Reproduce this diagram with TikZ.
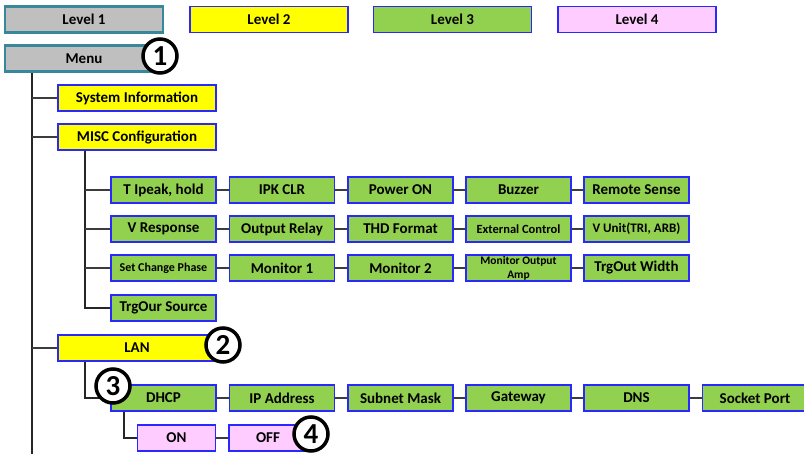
\documentclass[tikz,border=0pt]{standalone}
\usepackage{fontspec}
\setmainfont{Carlito}
\usepackage{tikz}
\usetikzlibrary{positioning}
\definecolor{LvlGray}{RGB}{191,191,191}
\definecolor{LvlTeal}{RGB}{56,135,155}
\definecolor{LvlBlue}{RGB}{40,40,255}
\definecolor{LvlYellow}{RGB}{255,255,0}
\definecolor{LvlGreen}{RGB}{146,208,80}
\definecolor{LvlPink}{RGB}{255,204,255}
\definecolor{LinkGray}{RGB}{60,60,60}

\tikzset{
  box/.style={draw=LvlBlue, line width=1.5pt, minimum height=26, inner sep=1pt,
              align=center, font=\bfseries\fontsize{15}{16}\selectfont},
  lvlone/.style={box, fill=LvlGray, draw=LvlTeal, line width=2.2pt, minimum width=158},
  lvltwo/.style={box, fill=LvlYellow, minimum width=158},
  lvlthree/.style={box, fill=LvlGreen, minimum width=105},
  lvlfour/.style={box, fill=LvlPink, minimum width=78},
  smalltext/.style={font=\bfseries\fontsize{12.5}{14}\selectfont},
  marker/.style={circle, draw, line width=3.5pt, fill=white, minimum size=34,
                 inner sep=0pt, font=\bfseries\fontsize{29}{29}\selectfont},
  trunk/.style={draw=black!85, line width=1.6pt},
  link/.style={draw=LinkGray, line width=1.4pt},
}

\begin{document}
\begin{tikzpicture}[x=1pt, y=-1pt]
  \useasboundingbox (0,0) rectangle (804,454);

  % Legend
  \node[lvlone] (legone) at (84,19.5) {Level 1};
  \node[lvltwo] (legtwo) at (269,19.5) {Level 2};
  \node[lvlthree, minimum width=158] (legthree) at (452.5,19.5) {Level 3};
  \node[lvlfour, minimum width=158] (legfour) at (637,19.5) {Level 4};

  % Level 1 and 2
  \node[lvlone] (menu) at (84,58.5) {Menu};
  \node[lvltwo] (sysinfo) at (137,98) {System Information};
  \node[lvltwo] (misc) at (137,137) {MISC Configuration};
  \node[lvltwo] (lan) at (137,348) {LAN};

  % MISC settings
  \node[lvlthree] (m11) at (163.5,190) {T Ipeak, hold};
  \node[lvlthree] (m12) at (282,190) {IPK CLR};
  \node[lvlthree] (m13) at (400.5,190) {Power ON};
  \node[lvlthree] (m14) at (518.5,190) {Buzzer};
  \node[lvlthree] (m15) at (636.5,190) {Remote Sense};

  \node[lvlthree] (m21) at (163.5,229) {V Response};
  \node[lvlthree] (m22) at (282,229) {Output Relay};
  \node[lvlthree] (m23) at (400.5,229) {THD Format};
  \node[lvlthree, smalltext] (m24) at (518.5,229) {External Control};
  \node[lvlthree, font=\bfseries\fontsize{13}{14}\selectfont] (m25) at (636.5,229) {V Unit(TRI, ARB)};

  \node[lvlthree, font=\bfseries\fontsize{12}{14}\selectfont] (m31) at (163.5,268) {Set Change Phase};
  \node[lvlthree] (m32) at (282,268) {Monitor 1};
  \node[lvlthree] (m33) at (400.5,268) {Monitor 2};
  \node[lvlthree, font=\bfseries\fontsize{11.5}{12}\selectfont] (m34) at (518.5,268) {Monitor Output\\[2pt]Amp};
  \node[lvlthree] (m35) at (636.5,268) {TrgOut Width};

  \node[lvlthree] (m41) at (163.5,308) {TrgOur Source};

  % LAN settings
  \node[lvlthree] (n1) at (163.5,398) {DHCP};
  \node[lvlthree] (n2) at (282,398) {IP Address};
  \node[lvlthree] (n3) at (400.5,398) {Subnet Mask};
  \node[lvlthree] (n4) at (518.5,398) {Gateway};
  \node[lvlthree] (n5) at (636.5,398) {DNS};
  \node[lvlthree] (n6) at (755,398) {Socket Port};

  \node[lvlfour] (on) at (176.5,438) {ON};
  \node[lvlfour] (off) at (268,438) {OFF};

  % Tree lines
  \coordinate (rootx) at (32,0);
  \coordinate (subx) at (85,0);
  \coordinate (dhcpx) at (124,0);
  \coordinate (trunkend) at (32,454);
  \draw[trunk] (menu.south -| rootx) -- (trunkend);
  \foreach \b in {sysinfo, misc, lan}
    \draw[link] (\b.west -| rootx) -- (\b.west);

  \draw[trunk] (misc.south -| subx) |- (m41.west);
  \foreach \r in {1,2,3}
    \draw[link] (m\r1.west -| subx) -- (m\r1.west);
  \foreach \r in {1,2,3} {
    \foreach \c/\n in {1/2, 2/3, 3/4, 4/5}
      \draw[link] (m\r\c.east) -- (m\r\n.west);
  }

  \draw[trunk] (lan.south -| subx) |- (n1.west);
  \foreach \c/\n in {1/2, 2/3, 3/4, 4/5, 5/6}
    \draw[link] (n\c.east) -- (n\n.west);
  \draw[trunk] (n1.south -| dhcpx) |- (on.west);
  \draw[link] (on.east) -- (off.west);

  % Step markers
  \node[marker] (markone) at (160,56) {1};
  \node[marker] (marktwo) at (223,345) {2};
  \node[marker] (markthree) at (113,386) {3};
  \node[marker] (markfour) at (311,434) {4};
\end{tikzpicture}
\end{document}
